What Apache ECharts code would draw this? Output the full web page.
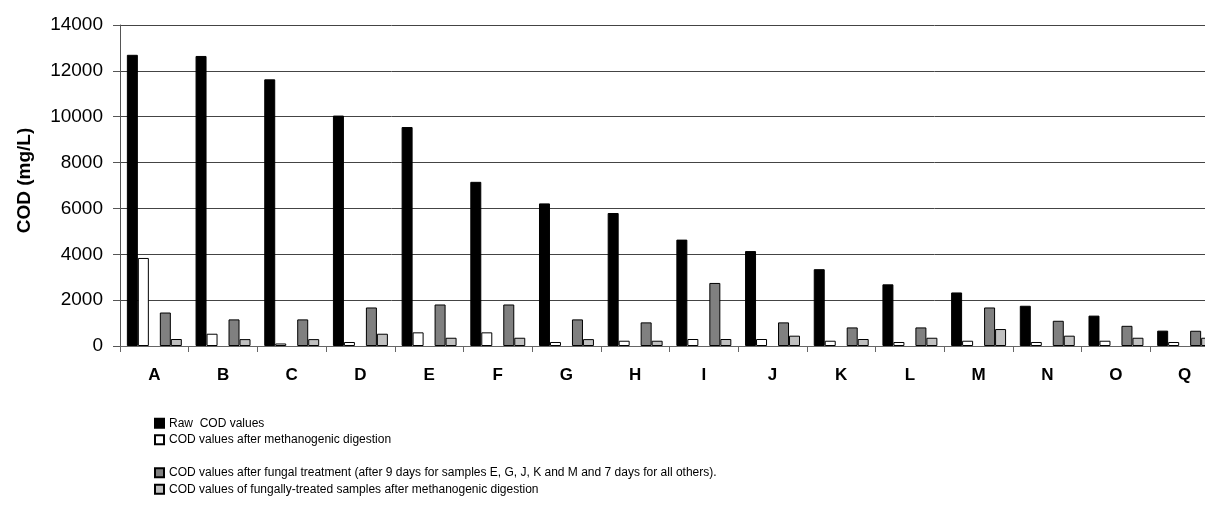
<!DOCTYPE html>
<html>
<head>
<meta charset="utf-8">
<script src="https://cdn.jsdelivr.net/npm/echarts@6/dist/echarts.min.js"></script>
<style>
html,body{margin:0;padding:0;background:#fff;overflow:hidden;}
#chart{width:1205px;height:509px;}
</style>
</head>
<body>
<div id="chart"></div>
<script>
var categories = ['A','B','C','D','E','F','G','H','I','J','K','L','M','N','O','Q'];
var rawCOD = [12700,12650,11630,10050,9550,7160,6220,5800,4640,4140,3350,2690,2335,1755,1325,670];
var afterDigestion = [3840,535,110,175,595,595,175,230,305,305,230,175,230,175,230,175];
var afterFungal = [1460,1160,1160,1680,1810,1810,1160,1030,2750,1030,810,810,1680,1100,880,665];
var fungalDigested = [305,300,300,535,360,360,300,230,305,450,305,360,740,450,360,360];
var yTicks = [0,2000,4000,6000,8000,10000,12000,14000];

var names = [
  'Raw  COD values',
  'COD values after methanogenic digestion',
  ' ',
  'COD values after fungal treatment (after 9 days for samples E, G, J, K and M and 7 days for all others).',
  'COD values of fungally-treated samples after methanogenic digestion'
];
var blank = categories.map(function(){ return null; });
var font = '"Liberation Sans", Arial, sans-serif';

function bar(name, data, color, bw) {
  return {
    name: name, type: 'bar', data: data,
    barGap: '0%', barCategoryGap: '20%',
    itemStyle: { color: color, borderColor: bw ? '#000' : 'transparent', borderWidth: bw },
    emphasis: { disabled: true },
    animation: false
  };
}

var chart = echarts.init(document.getElementById('chart'), null, { renderer: 'canvas' });
chart.setOption({
  backgroundColor: '#fff',
  animation: false,
  grid: { left: 120, right: -14, top: 25, bottom: 163, containLabel: false, outerBoundsMode: 'none' },
  legend: {
    orient: 'vertical', left: 154, top: 415, padding: 0,
    itemWidth: 9, itemHeight: 9, itemGap: 0,
    icon: 'rect',
    selectedMode: false,
    textStyle: { fontFamily: font, fontSize: 12, color: '#000', lineHeight: 16.5 },
    data: names
  },
  xAxis: {
    type: 'category', data: categories,
    axisLine: { lineStyle: { color: '#666', width: 1 } },
    axisTick: { show: true, length: 6, alignWithLabel: false, lineStyle: { color: '#666' } },
    axisLabel: { fontFamily: font, fontSize: 17, fontWeight: 'bold', color: '#000', margin: 21 },
    splitLine: { show: false }
  },
  yAxis: {
    type: 'value', min: yTicks[0], max: yTicks[yTicks.length-1], interval: 2000,
    name: 'COD (mg/L)', nameLocation: 'middle', nameGap: 86, nameRotate: 90,
    nameTextStyle: { fontFamily: font, fontSize: 19, fontWeight: 'bold', color: '#000', padding: [0, 0, 0, 10] },
    axisLine: { show: true, lineStyle: { color: '#555', width: 1 } },
    axisTick: { show: true, length: 7, inside: false, lineStyle: { color: '#555' } },
    axisLabel: { fontFamily: font, fontSize: 19, color: '#000', margin: 17,
      formatter: function (v) { return String(v); } },
    splitLine: { show: true, lineStyle: { color: '#444', width: 1 } }
  },
  series: [
    bar(names[0], rawCOD, '#000000', 1),
    bar(names[1], afterDigestion, '#ffffff', 1),
    bar(names[2], blank, 'rgba(0,0,0,0)', 0),
    bar(names[3], afterFungal, '#808080', 1),
    bar(names[4], fungalDigested, '#c0c0c0', 1)
  ]
});
</script>
</body>
</html>
